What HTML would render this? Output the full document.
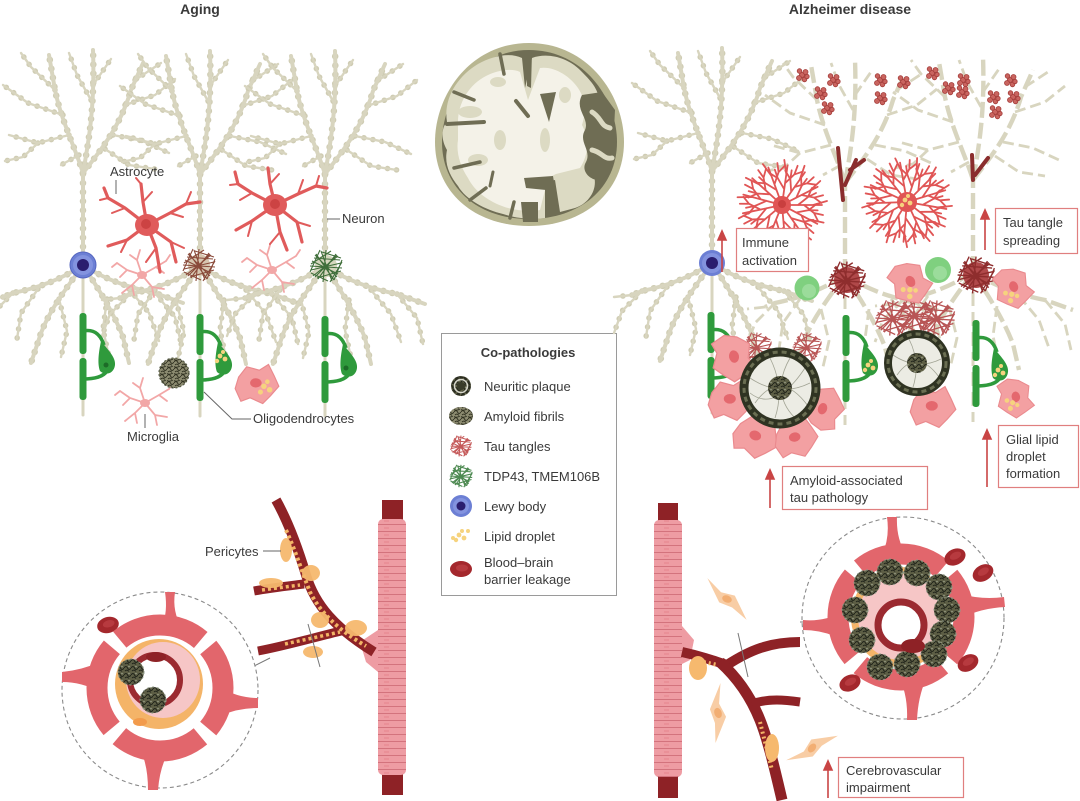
<!DOCTYPE html>
<html><head><meta charset="utf-8">
<style>
html,body{margin:0;padding:0;background:#fff;}
svg{display:block;}
text{font-family:"Liberation Sans",Arial,sans-serif;fill:#3a3a3a;}
</style></head><body>
<svg width="1080" height="801" viewBox="0 0 1080 801" xmlns="http://www.w3.org/2000/svg">
<defs>
 <pattern id="vs" width="40" height="7" patternUnits="userSpaceOnUse">
  <rect width="40" height="7" fill="#ee9ca3"/>
  <path d="M0,6.5 H40" stroke="#d3737d" stroke-width="1.1"/>
  <path d="M8,3 h4 M24,3 h5" stroke="#e5858e" stroke-width="1"/>
 </pattern>
 <pattern id="scr" width="7" height="7" patternUnits="userSpaceOnUse">
  <rect width="7" height="7" fill="#8c8b70"/>
  <path d="M0,3 Q2,0 3.5,3 T7,3 M1,6 Q3,4 5,6.5 M0,0.5 Q3,2 6,0" stroke="#2f3020" stroke-width="0.9" fill="none"/>
 </pattern>
 <pattern id="scr2" width="7" height="7" patternUnits="userSpaceOnUse">
  <rect width="7" height="7" fill="#5d5e45"/>
  <path d="M0,3 Q2,0 3.5,3 T7,3 M1,6 Q3,4 5,6.5" stroke="#20231a" stroke-width="1" fill="none"/>
  <circle cx="5" cy="1.5" r="0.8" fill="#9aa08a"/>
 </pattern>
 <g id="nT" fill="none">
  <path d="M0,0 L0,-92"/>
  <path d="M0,-92 C-8,-118 -22,-145 -28,-175 L-34,-210"/>
  <path d="M0,-92 C6,-125 12,-160 10,-215"/>
  <path d="M0,-92 C18,-115 38,-140 48,-175 L60,-202"/>
  <path d="M0,0 C-18,12 -40,22 -70,28 L-80,32"/>
  <path d="M0,0 C-14,20 -32,42 -42,68 L-52,98"/>
  <path d="M0,0 C18,12 42,22 72,28 L100,38"/>
  <path d="M0,0 C14,22 30,46 40,72 L46,98"/>
 </g>
 <g id="nB" fill="none">
  <path d="M-14,-130 L-45,-122 L-74,-130"/>
  <path d="M-20,-150 L-55,-162 L-80,-180"/>
  <path d="M-28,-175 L-52,-198 L-62,-212"/>
  <path d="M-45,-122 L-60,-108 L-78,-104"/>
  <path d="M8,-165 L-6,-190 L-14,-212"/>
  <path d="M10,-180 L28,-206"/>
  <path d="M30,-130 L60,-124 L86,-112"/>
  <path d="M42,-160 L72,-170 L92,-186"/>
  <path d="M52,-185 L78,-202"/>
  <path d="M22,-116 L46,-100 L72,-96"/>
  <path d="M-4,-110 L-22,-100"/>
  <path d="M-45,24 L-62,48 L-66,74"/>
  <path d="M-70,28 L-90,48 L-98,70"/>
  <path d="M-80,32 L-98,34"/>
  <path d="M46,24 L66,48 L76,76"/>
  <path d="M72,28 L92,52 L98,78"/>
  <path d="M-24,34 L-16,66 L-22,92"/>
  <path d="M24,34 L20,64 L26,92"/>
 </g>
 <g id="nrnA" stroke-linecap="round" stroke-linejoin="round">
  <use href="#nT" stroke="#cfccb3" stroke-width="6.5" stroke-dasharray="0.1 9"/>
  <use href="#nB" stroke="#cfccb3" stroke-width="5.5" stroke-dasharray="0.1 9"/>
  <use href="#nT" stroke="#d8d5bf" stroke-width="4"/>
  <use href="#nB" stroke="#d8d5bf" stroke-width="2.4"/>
  <path d="M0,0 L0,150" stroke="#d8d5bf" stroke-width="3" fill="none"/>
 </g>
 <g id="nrnD" stroke-linecap="butt" stroke-linejoin="round">
  <use href="#nT" stroke="#d8d5bf" stroke-width="4.4" stroke-dasharray="16 5"/>
  <use href="#nB" stroke="#d8d5bf" stroke-width="2.8" stroke-dasharray="11 5"/>
  <path d="M0,0 L0,150" stroke="#d8d5bf" stroke-width="3" stroke-dasharray="14 6" fill="none"/>
 </g>
 <g id="olig">
  <rect x="-3.5" y="0" width="7" height="41" rx="3" fill="#2f9a3c"/>
  <rect x="-3.5" y="45" width="7" height="42" rx="3" fill="#2f9a3c"/>
  <path d="M0,18 C10,16 17,20 21,32" stroke="#2f9a3c" stroke-width="3.5" fill="none"/>
  <path d="M0,66 C12,66 20,64 24,58" stroke="#2f9a3c" stroke-width="3.5" fill="none"/>
  <path d="M18,28 C24,36 33,44 32,52 C31,61 22,63 17,58 C14,50 16,38 18,28Z" fill="#2f9a3c"/>
 </g>
 <g id="tg" fill="none">
  <path d="M-14,-5 L12,8 M-10,-12 L8,14 M-15,4 L15,-3 M-5,-15 L6,15 M10,-12 L-8,13 M-13,10 L12,-10 M-16,0 L16,2 M0,-16 L-3,16 M-12,-8 L14,-6 M-9,12 L15,5 M-4,-14 L15,-8 M-15,7 L2,15 M5,-15 L-15,-2 M8,14 L16,-6 M-11,-11 L11,11 M11,-11 L-11,11 M-6,-16 L-16,6 M16,-4 L4,16"/>
 </g>
 <g id="spk" fill="none">
  <path d="M5,0 L40,0 M16,0 L26,-8 L34,-12 M26,-8 L30,-17 M22,0 L32,8 L41,10 M32,8 L36,16 M31,0 L45,-4"/>
 </g>
 <g id="mg" fill="none" stroke="#f2a7a7" stroke-width="1.8" stroke-linecap="round">
  <path d="M0,0 L-15,-5 L-25,-12 M-15,-5 L-22,2 M0,0 L-5,-15 L-2,-25 M-5,-15 L-12,-20 M0,0 L14,-8 L24,-14 M14,-8 L22,-2 M0,0 L10,12 L22,14 M10,12 L12,22 M0,0 L-10,10 L-20,18 M-10,10 L-8,20 M-25,-12 L-30,-8 M24,-14 L28,-20"/>
  <ellipse cx="0" cy="0" rx="5" ry="4" fill="#f2a7a7" stroke="none"/>
 </g>
 <g id="pc">
  <path d="M-16,-6 L-9,-15 L2,-12 L10,-17 L15,-7 L19,2 L12,10 L5,17 L-6,12 L-14,15 L-19,4 Z" fill="#f3a0a2" stroke="#ea8a8e" stroke-width="1"/>
  <ellipse cx="-1" cy="-1" rx="5" ry="4" fill="#e4686e"/>
 </g>
 <g id="lip" fill="#f6d37e">
  <circle cx="0" cy="0" r="2.4"/><circle cx="5" cy="3" r="2.4"/><circle cx="-3" cy="5" r="2.2"/><circle cx="3" cy="-4" r="2"/>
 </g>
 <g id="af">
  <circle r="13" fill="url(#scr2)"/>
  <circle r="13" fill="none" stroke="#8f9a88" stroke-width="1" stroke-dasharray="2 3"/>
 </g>
 <g id="rbc">
  <ellipse rx="11" ry="8" fill="#a4282d"/>
  <ellipse cx="1" cy="-1" rx="6" ry="3.5" fill="#b73a3f"/>
 </g>
 <g id="tc" fill="#c9645f" stroke="#a43d3a" stroke-width="0.8">
  <circle cx="0" cy="0" r="2.6"/><circle cx="3.5" cy="-3" r="2.5"/><circle cx="-3" cy="3" r="2.5"/><circle cx="2.5" cy="4.5" r="2.3"/><circle cx="-2.5" cy="-4" r="2.3"/><circle cx="5" cy="1.5" r="2.2"/>
 </g>
 <g id="peri">
  <path d="M-26,-12 L-8,-4 L6,-6 L26,12 L8,6 L-6,6 Z" fill="#f8cda5"/>
  <ellipse cx="0" cy="0" rx="5" ry="3.5" fill="#f2ae73"/>
 </g>
</defs>

<text x="200" y="14" font-size="14" font-weight="bold" text-anchor="middle" fill="#222">Aging</text>
<text x="850" y="14" font-size="14" font-weight="bold" text-anchor="middle" fill="#222">Alzheimer disease</text>

<use href="#nrnA" x="83" y="265"/>
<use href="#nrnA" x="200" y="266"/>
<use href="#nrnA" x="325" y="266"/>

<use href="#mg" x="142" y="275"/>
<use href="#mg" x="272" y="270"/>
<use href="#mg" x="145" y="403"/>

<g fill="none" stroke="#e05b5b" stroke-linecap="round" stroke-linejoin="round">
 <g stroke-width="3.2">
  <path d="M147,225 L125,208 L108,198 L104,188"/>
  <path d="M147,225 L143,202 L141,184"/>
  <path d="M147,225 L170,213 L186,204 L200,202"/>
  <path d="M147,225 L127,240 L108,246"/>
  <path d="M147,225 L156,248 L160,272"/>
  <path d="M147,225 L171,242 L176,262"/>
  <path d="M275,205 L252,193 L238,184 L235,172"/>
  <path d="M275,205 L270,184 L268,168"/>
  <path d="M275,205 L298,194 L316,186 L327,188"/>
  <path d="M275,205 L252,221 L236,230"/>
  <path d="M275,205 L280,232 L287,250"/>
  <path d="M275,205 L297,222 L302,242"/>
 </g>
 <g stroke-width="2">
  <path d="M125,208 L112,213 M108,198 L100,200 M143,202 L152,192 M186,204 L191,192 M170,213 L183,217 M127,240 L121,252 M156,248 L146,262 M171,242 L184,248 M141,184 L136,178"/>
  <path d="M252,193 L240,200 M270,184 L279,174 M298,194 L303,180 M316,186 L319,176 M252,221 L248,236 M280,232 L270,244 M297,222 L310,226 M238,184 L230,185"/>
 </g>
</g>
<ellipse cx="147" cy="225" rx="12" ry="11" fill="#e05b5b"/>
<circle cx="146" cy="224" r="5" fill="#cc4343"/>
<ellipse cx="275" cy="205" rx="12" ry="11" fill="#e05b5b"/>
<circle cx="275" cy="204" r="5" fill="#cc4343"/>

<circle cx="83" cy="265" r="13" fill="#6c7fd4"/>
<circle cx="83" cy="265" r="10" fill="#8393df"/>
<circle cx="83" cy="265" r="6" fill="#2a1d6e"/>
<circle cx="83" cy="265" r="13" fill="none" stroke="#5566c0" stroke-width="1"/>
<circle cx="199" cy="265" r="11" fill="#d7c6b0"/>
<use href="#tg" x="199" y="265" stroke="#8a4a3a" stroke-width="1.1"/>
<circle cx="326" cy="266" r="11" fill="#d5d6bd"/>
<use href="#tg" x="326" y="266" stroke="#3f6e3a" stroke-width="1.1"/>

<use href="#olig" x="83" y="313"/>
<use href="#olig" x="200" y="314"/>
<use href="#olig" x="325" y="316"/>
<use href="#lip" x="220" y="356"/>
<circle cx="346" cy="368" r="2.5" fill="#1d6b28"/>
<circle cx="106" cy="365" r="2.5" fill="#1d6b28"/>

<g transform="translate(174,373)"><circle r="15" fill="url(#scr)"/><circle r="15" fill="none" stroke="#555a44" stroke-width="1.2" stroke-dasharray="2 2"/></g>
<g transform="translate(257,384) scale(1.15)"><use href="#pc"/><use href="#lip" x="6" y="2"/></g>

<text x="110" y="176" font-size="13">Astrocyte</text>
<path d="M116,180 L116,194" stroke="#666" stroke-width="1" fill="none"/>
<text x="342" y="223" font-size="13">Neuron</text>
<path d="M327,219 L340,219" stroke="#666" stroke-width="1"/>
<text x="253" y="423" font-size="13">Oligodendrocytes</text>
<path d="M204,392 L232,419 L251,419" stroke="#666" stroke-width="1" fill="none"/>
<text x="127" y="441" font-size="13">Microglia</text>
<path d="M145,414 L145,428" stroke="#666" stroke-width="1"/>

<!-- BRAIN -->
<path d="M529,43 C588,43 624,95 624,142 C624,192 584,226 529,226 C474,226 435,192 435,142 C435,95 470,43 529,43 Z" fill="#b8b691"/>
<path d="M529,50 C583,50 617,98 617,142 C617,188 580,219 529,219 C478,219 442,188 442,142 C442,98 475,50 529,50 Z" fill="#6f6d54"/>
<path d="M447,122 C443,98 458,76 478,64 C492,56 510,52 522,58 L525,88 L532,58 C548,52 568,58 580,70 C592,82 602,92 598,108 C594,118 604,128 600,142 C606,152 604,168 594,176 C598,190 588,204 575,208 L560,212 L555,180 L545,182 L545,218 C530,220 515,218 503,214 C486,210 466,200 458,186 C450,176 444,164 447,150 C441,140 441,128 447,122 Z" fill="#dcdac3"/>
<path d="M458,122 C458,102 470,84 486,76 C498,70 512,68 520,72 L528,100 L540,68 C554,66 570,76 578,88 C586,100 586,112 582,125 C590,140 588,156 580,168 L556,174 L548,178 L540,210 C528,212 512,210 502,206 C486,200 474,190 468,178 C460,166 456,152 458,140 Z" fill="#f4f2e8"/>
<g fill="#dcdac3">
 <ellipse cx="470" cy="112" rx="12" ry="6"/><ellipse cx="478" cy="160" rx="10" ry="6"/>
 <ellipse cx="500" cy="140" rx="6" ry="10"/><ellipse cx="545" cy="140" rx="5" ry="12"/>
 <ellipse cx="498" cy="82" rx="8" ry="5"/><ellipse cx="565" cy="95" rx="6" ry="8"/>
</g>
<g stroke="#6f6d54" stroke-linecap="round" fill="none">
 <path d="M447,124 L484,122" stroke-width="4"/>
 <path d="M454,92 L474,100" stroke-width="3.5"/>
 <path d="M454,168 L480,162" stroke-width="3.5"/>
 <path d="M500,54 L504,74" stroke-width="3.5"/>
 <path d="M470,200 L486,188" stroke-width="3.5"/>
 <path d="M510,218 L514,202" stroke-width="3.5"/>
 <path d="M493,172 L490,186" stroke-width="3"/>
 <path d="M516,101 L528,116" stroke-width="4"/>
</g>
<path d="M582,95 C574,110 590,118 585,130 C578,142 592,150 586,162 C580,172 592,182 602,180 L612,170 L615,110 L602,92 Z" fill="#6f6d54"/>
<path d="M592,112 C602,118 600,126 610,128 M592,150 C602,152 604,160 612,158" stroke="#dcdac3" stroke-width="5" fill="none" stroke-linecap="round"/>
<path d="M540,94 L556,92 L549,122 Z" fill="#6f6d54"/>
<path d="M524,178 L553,176 L558,206 L548,204 L546,190 L526,188 Z" fill="#6f6d54"/>
<path d="M521,202 L538,202 L538,222 L523,222 Z" fill="#6f6d54"/>
<path d="M527,52 L532,52 L531,88 L527,86 Z" fill="#6f6d54"/>

<!-- LEGEND -->
<rect x="441.5" y="333.5" width="175" height="262" fill="#fff" stroke="#9a9a9a" stroke-width="1"/>
<text x="528" y="357" font-size="13" font-weight="bold" text-anchor="middle" fill="#222">Co-pathologies</text>
<g transform="translate(461,386)">
 <circle r="10" fill="url(#scr2)"/><circle r="8" fill="none" stroke="#2b2d20" stroke-width="3" stroke-dasharray="3 1.5"/><circle r="4" fill="#3a3c2a"/><circle r="6.5" fill="none" stroke="#d8d8cc" stroke-width="1.5"/>
</g>
<g transform="translate(461,416)"><ellipse rx="12" ry="9" fill="url(#scr)"/></g>
<use href="#tg" transform="translate(461,446) scale(0.65)" stroke="#c55a5a" stroke-width="1.6"/>
<use href="#tg" transform="translate(461,476) scale(0.7)" stroke="#4e8a52" stroke-width="1.6"/>
<circle cx="461" cy="506" r="11" fill="#6c7fd4"/><circle cx="461" cy="506" r="8" fill="#8393df"/><circle cx="461" cy="506" r="4.5" fill="#2a1d6e"/>
<use href="#lip" x="459" y="535"/><circle cx="468" cy="531" r="2" fill="#f6d37e"/><circle cx="453" cy="538" r="2" fill="#f6d37e"/>
<use href="#rbc" x="461" y="569"/>
<g font-size="13">
 <text x="484" y="391">Neuritic plaque</text>
 <text x="484" y="421">Amyloid fibrils</text>
 <text x="484" y="451">Tau tangles</text>
 <text x="484" y="481">TDP43, TMEM106B</text>
 <text x="484" y="511">Lewy body</text>
 <text x="484" y="541">Lipid droplet</text>
 <text x="484" y="567">Blood–brain</text>
 <text x="484" y="584">barrier leakage</text>
</g>

<!-- AGING VESSELS -->
<rect x="382" y="500" width="21" height="295" fill="#8e2226"/>
<rect x="378" y="519" width="28" height="256" rx="5" fill="url(#vs)"/>
<path d="M378,630 L360,642 L366,662 L378,672 Z" fill="#ee9ca3"/>
<g fill="none" stroke-linecap="butt">
 <path d="M276,500 C290,525 300,555 306,575 C315,605 335,628 374,652" stroke="#8e2226" stroke-width="10"/>
 <path d="M254,591 C270,588 288,586 304,584" stroke="#8e2226" stroke-width="9"/>
 <path d="M258,651 C285,646 312,638 345,630" stroke="#8e2226" stroke-width="9"/>
 <path d="M286,530 C296,552 302,572 310,592 C320,612 338,630 366,646" stroke="#f2b466" stroke-width="4" stroke-dasharray="3 3"/>
 <path d="M262,590 L300,585 M285,644 L340,632" stroke="#f2b466" stroke-width="3.5" stroke-dasharray="3 3"/>
</g>
<g fill="#f6b96e" opacity="0.95">
 <ellipse cx="286" cy="550" rx="6" ry="12"/>
 <ellipse cx="311" cy="573" rx="9" ry="8"/>
 <ellipse cx="271" cy="583" rx="12" ry="5"/>
 <ellipse cx="320" cy="620" rx="9" ry="8"/>
 <ellipse cx="356" cy="628" rx="11" ry="8"/>
 <ellipse cx="313" cy="652" rx="10" ry="6"/>
</g>
<text x="205" y="556" font-size="13">Pericytes</text>
<path d="M263,551 L281,551" stroke="#666" stroke-width="1"/>
<path d="M308,624 L320,667" stroke="#777" stroke-width="1"/>
<path d="M254,666 L270,658" stroke="#777" stroke-width="1"/>

<circle cx="160" cy="690" r="98" fill="#fff" stroke="#8a8a8a" stroke-width="1.1" stroke-dasharray="4 3"/>
<use href="#rbc" x="108" y="625" transform="rotate(-15 108 625)"/>
<g fill="#e2666c">
 <path d="M162,626 Q168,612 165,592 L175,592 Q172,612 182,628 Z"/>
 <path d="M100,662 Q82,670 62,672 L62,682 Q82,682 100,692 Z"/>
 <path d="M222,688 Q238,698 258,698 L258,708 Q238,708 220,716 Z"/>
 <path d="M140,749 Q148,765 148,790 L158,790 Q160,765 170,750 Z"/>
</g>
<circle cx="160" cy="688" r="63" fill="none" stroke="#e2666c" stroke-width="21" stroke-dasharray="88 11" transform="rotate(-40 160 688)"/>
<ellipse cx="159" cy="684" rx="44" ry="45" fill="#f4b468"/>
<ellipse cx="163" cy="680" rx="37" ry="38" fill="#f6c6c6"/>
<circle cx="155" cy="680" r="25" fill="#fff" stroke="#9b2a30" stroke-width="6"/>
<ellipse cx="156" cy="657" rx="10" ry="5" fill="#8e2226"/>
<ellipse cx="140" cy="722" rx="7" ry="4" fill="#f29b4c"/>
<use href="#af" x="131" y="672"/>
<use href="#af" x="153" y="700"/>

<!-- AD NEURONS -->
<use href="#nrnA" x="712" y="263"/>
<use href="#nrnD" x="845" y="275"/>
<use href="#nrnD" x="973" y="272"/>
<g stroke="#8a2d2d" stroke-width="4" stroke-linecap="round" fill="none">
 <path d="M843,200 L838,148"/><path d="M845,185 L856,160"/><path d="M850,170 L864,160"/>
 <path d="M973,180 L972,155"/><path d="M975,175 L988,158"/>
</g>
<g>
 <use href="#tc" x="802" y="75"/><use href="#tc" x="820" y="93"/><use href="#tc" x="827" y="108"/><use href="#tc" x="833" y="80"/>
 <use href="#tc" x="880" y="80"/><use href="#tc" x="880" y="98"/><use href="#tc" x="903" y="82"/><use href="#tc" x="932" y="73"/>
 <use href="#tc" x="948" y="88"/><use href="#tc" x="963" y="80"/><use href="#tc" x="962" y="92"/><use href="#tc" x="993" y="97"/>
 <use href="#tc" x="995" y="112"/><use href="#tc" x="1010" y="80"/><use href="#tc" x="1013" y="97"/>
</g>

<g stroke="#e05555" stroke-width="1.8" stroke-linecap="round" fill="none">
 <g transform="translate(782,205)">
  <use href="#spk" transform="rotate(0)"/><use href="#spk" transform="rotate(28)"/><use href="#spk" transform="rotate(55)"/><use href="#spk" transform="rotate(85)"/><use href="#spk" transform="rotate(112)"/><use href="#spk" transform="rotate(140)"/><use href="#spk" transform="rotate(168)"/><use href="#spk" transform="rotate(195)"/><use href="#spk" transform="rotate(222)"/><use href="#spk" transform="rotate(250)"/><use href="#spk" transform="rotate(278)"/><use href="#spk" transform="rotate(305)"/><use href="#spk" transform="rotate(333)"/>
 </g>
 <g transform="translate(907,202)">
  <use href="#spk" transform="rotate(10)"/><use href="#spk" transform="rotate(38)"/><use href="#spk" transform="rotate(65)"/><use href="#spk" transform="rotate(95)"/><use href="#spk" transform="rotate(122)"/><use href="#spk" transform="rotate(150)"/><use href="#spk" transform="rotate(178)"/><use href="#spk" transform="rotate(205)"/><use href="#spk" transform="rotate(232)"/><use href="#spk" transform="rotate(260)"/><use href="#spk" transform="rotate(288)"/><use href="#spk" transform="rotate(315)"/><use href="#spk" transform="rotate(343)"/>
 </g>
</g>
<circle cx="782" cy="205" r="9" fill="#e05555"/><circle cx="782" cy="204" r="4" fill="#c93f3f"/>
<circle cx="907" cy="202" r="10" fill="#e05555"/><use href="#lip" x="905" y="200"/>

<circle cx="847" cy="280" r="13" fill="#b0494a"/>
<use href="#tg" transform="translate(847,280) scale(1.15)" stroke="#8e2d2d" stroke-width="1.2"/>
<circle cx="976" cy="275" r="13" fill="#b0494a"/>
<use href="#tg" transform="translate(976,275) scale(1.15)" stroke="#8e2d2d" stroke-width="1.2"/>
<circle cx="712" cy="263" r="13" fill="#6c7fd4"/><circle cx="712" cy="263" r="10" fill="#8393df"/><circle cx="712" cy="263" r="6" fill="#2a1d6e"/>

<circle cx="807" cy="288" r="12.5" fill="#7fd07f"/><circle cx="809" cy="291" r="7" fill="#9bdc9b"/>
<circle cx="938" cy="270" r="13" fill="#7fd07f"/><circle cx="940" cy="273" r="7" fill="#9bdc9b"/>

<use href="#olig" x="711" y="312"/>
<use href="#olig" x="846" y="315"/>
<use href="#olig" x="976" y="320"/>
<use href="#lip" x="868" y="365"/>
<use href="#lip" x="998" y="370"/>

<g stroke="#b85555" stroke-width="1.2" fill="none">
 <use href="#tg" transform="translate(893,318) scale(1.1)"/><use href="#tg" transform="translate(915,315) scale(1.1)"/><use href="#tg" transform="translate(937,318) scale(1.1)"/>
 <use href="#tg" transform="translate(757,347) scale(0.9)"/><use href="#tg" transform="translate(807,347) scale(0.9)"/>
</g>

<use href="#pc" transform="translate(733,358) scale(1.25) rotate(80)"/>
<use href="#pc" transform="translate(731,400) scale(1.2)"/>
<use href="#pc" transform="translate(756,437) scale(1.2) rotate(20)"/>
<use href="#pc" transform="translate(796,438) scale(1.15) rotate(-10)"/>
<use href="#pc" transform="translate(824,408) scale(1.15) rotate(-70)"/>
<use href="#pc" transform="translate(933,407) scale(1.2)"/>
<g transform="translate(910,283) scale(1.15) rotate(60)"><use href="#pc"/><use href="#lip" x="5" y="3"/></g>
<g transform="translate(1013,288) scale(1.1) rotate(70)"><use href="#pc"/><use href="#lip" x="5" y="3"/></g>
<g transform="translate(1015,398) scale(1.05) rotate(80)"><use href="#pc"/><use href="#lip" x="4" y="3"/></g>

<g transform="translate(780,388)">
 <circle r="36" fill="#ecece4"/>
 <g stroke="#8f917f" stroke-width="0.8" fill="none" opacity="0.8">
  <path d="M-30,-10 Q0,10 30,-5 M-25,15 Q0,-20 28,18 M-10,-30 Q5,0 -5,30 M10,-30 Q-10,5 15,30 M-30,5 Q-5,25 25,-20"/>
 </g>
 <circle r="12" fill="url(#scr2)"/>
 <circle r="36" fill="none" stroke="#2f3322" stroke-width="9"/>
 <circle r="36" fill="none" stroke="#6a6e52" stroke-width="3" stroke-dasharray="5 4"/>
</g>
<g transform="translate(917,363)">
 <circle r="29" fill="#ecece4"/>
 <g stroke="#8f917f" stroke-width="0.8" fill="none" opacity="0.8">
  <path d="M-24,-8 Q0,8 24,-4 M-20,12 Q0,-16 22,14 M-8,-24 Q4,0 -4,24"/>
 </g>
 <circle r="10" fill="url(#scr2)"/>
 <circle r="29" fill="none" stroke="#2f3322" stroke-width="8"/>
 <circle r="29" fill="none" stroke="#6a6e52" stroke-width="3" stroke-dasharray="5 4"/>
</g>

<g fill="#fff" stroke="#e07f7f" stroke-width="1.2">
 <rect x="736.5" y="228.5" width="72" height="43"/>
 <rect x="995.5" y="208.5" width="82" height="45"/>
 <rect x="998.5" y="425.5" width="80" height="62"/>
 <rect x="782.5" y="466.5" width="145" height="43"/>
 <rect x="838.5" y="757.5" width="125" height="40"/>
</g>
<g font-size="13">
 <text x="742" y="247">Immune</text><text x="742" y="265">activation</text>
 <text x="1003" y="227">Tau tangle</text><text x="1003" y="245">spreading</text>
 <text x="1006" y="444">Glial lipid</text><text x="1006" y="461">droplet</text><text x="1006" y="478">formation</text>
 <text x="790" y="485">Amyloid-associated</text><text x="790" y="502">tau pathology</text>
 <text x="846" y="775">Cerebrovascular</text><text x="846" y="792">impairment</text>
</g>
<g stroke="#c94545" stroke-width="1.6" fill="#c94545">
 <path d="M722,272 L722,238"/><path d="M718,240 L722,231 L726,240 Z"/>
 <path d="M985,250 L985,217"/><path d="M981,219 L985,210 L989,219 Z"/>
 <path d="M987,487 L987,437"/><path d="M983,439 L987,430 L991,439 Z"/>
 <path d="M770,508 L770,477"/><path d="M766,479 L770,470 L774,479 Z"/>
 <path d="M828,798 L828,768"/><path d="M824,770 L828,761 L832,770 Z"/>
</g>

<!-- AD VESSELS -->
<rect x="658" y="503" width="20" height="295" fill="#8e2226"/>
<rect x="654" y="520" width="28" height="257" rx="5" fill="url(#vs)"/>
<path d="M682,626 L694,640 L690,660 L682,664 Z" fill="#ee9ca3"/>
<g fill="none">
 <path d="M682,652 C700,656 712,660 727,665 C750,650 770,642 800,642" stroke="#8e2226" stroke-width="10"/>
 <path d="M720,662 C740,680 752,700 760,720 C768,740 775,770 782,800" stroke="#8e2226" stroke-width="11"/>
 <path d="M752,704 C768,698 786,700 800,702" stroke="#8e2226" stroke-width="9"/>
 <path d="M694,660 L718,665 M760,722 L772,770" stroke="#f2b466" stroke-width="4" stroke-dasharray="2 3"/>
</g>
<ellipse cx="698" cy="668" rx="9" ry="12" fill="#f6b96e"/>
<ellipse cx="772" cy="748" rx="7" ry="14" fill="#f6b96e"/>
<path d="M738,633 L748,677" stroke="#777" stroke-width="1"/>
<use href="#peri" transform="translate(727,599) rotate(22)"/>
<use href="#peri" transform="translate(718,713) rotate(70) scale(1.05)"/>
<use href="#peri" transform="translate(812,748) rotate(-50)"/>

<circle cx="903" cy="618" r="101" fill="#fff" stroke="#8a8a8a" stroke-width="1.1" stroke-dasharray="4 3"/>
<path d="M800,622 L806,622" stroke="#777" stroke-width="1"/>
<g fill="#e2666c">
 <path d="M882,555 Q890,538 887,517 L897,517 Q896,538 906,555 Z"/>
 <path d="M843,612 Q824,622 803,620 L803,630 Q824,630 843,640 Z"/>
 <path d="M961,594 Q982,600 1004,597 L1005,607 Q982,608 961,618 Z"/>
 <path d="M900,679 Q908,697 907,720 L917,720 Q918,697 926,679 Z"/>
</g>
<circle cx="901" cy="617" r="63" fill="none" stroke="#e2666c" stroke-width="21" stroke-dasharray="88 11" transform="rotate(-40 901 617)"/>
<circle cx="901" cy="617" r="50" fill="#f4b468"/>
<circle cx="901" cy="617" r="43" fill="#f6c6c6"/>
<use href="#af" x="890" y="572"/><use href="#af" x="917" y="573"/><use href="#af" x="939" y="587"/>
<use href="#af" x="947" y="610"/><use href="#af" x="943" y="634"/><use href="#af" x="934" y="654"/>
<use href="#af" x="907" y="664"/><use href="#af" x="880" y="667"/><use href="#af" x="862" y="640"/>
<use href="#af" x="855" y="610"/><use href="#af" x="867" y="583"/>
<circle cx="901" cy="625" r="23" fill="#fff" stroke="#9b2a30" stroke-width="7"/>
<ellipse cx="913" cy="646" rx="12" ry="7" fill="#8e2226"/>
<use href="#rbc" x="955" y="557" transform="rotate(-25 955 557)"/>
<use href="#rbc" x="983" y="573" transform="rotate(-30 983 573)"/>
<use href="#rbc" x="968" y="663" transform="rotate(-30 968 663)"/>
<use href="#rbc" x="850" y="683" transform="rotate(-25 850 683)"/>
</svg>
</body></html>
